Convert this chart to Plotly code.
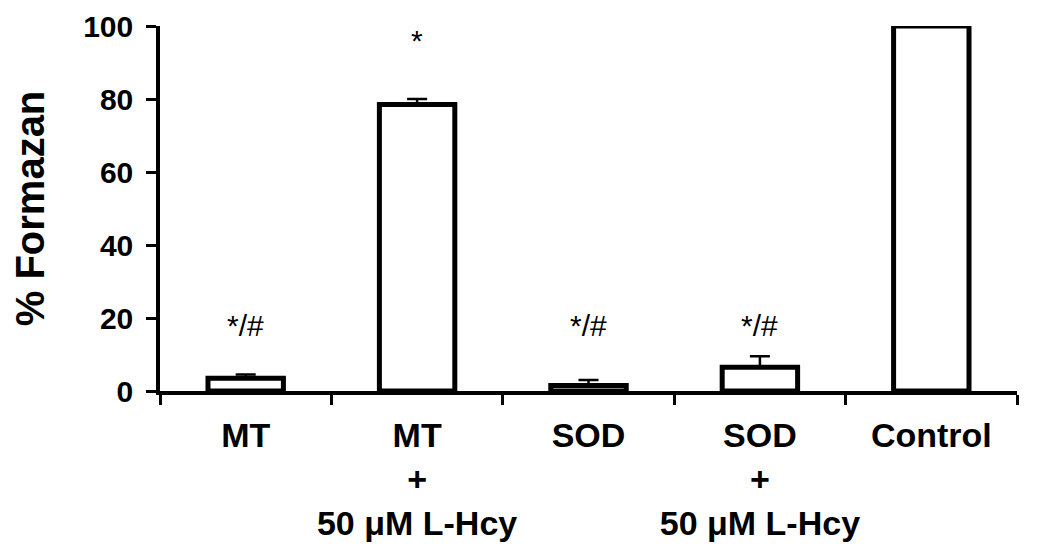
import plotly.graph_objects as go

categories = ["MT", "MT<br>+<br>50 μM L-Hcy", "SOD", "SOD<br>+<br>50 μM L-Hcy", "Control"]
values = [3.5, 78.5, 1.5, 6.5, 100]
errors = [1.0, 1.5, 1.5, 3.0, None]
sig_labels = ["*/#", "*", "*/#", "*/#", ""]
sig_y = [18, 96, 18, 18, None]

fig = go.Figure()
fig.add_trace(go.Bar(
    x=categories, y=values,
    width=0.44,
    marker=dict(color="white", line=dict(color="black", width=5)),
    error_y=dict(type="data", array=errors, arrayminus=[0]*5, symmetric=False,
                 color="black", thickness=2.5, width=10),
))

for c, lab, yy in zip(categories, sig_labels, sig_y):
    if lab:
        fig.add_annotation(x=c, y=yy, text=lab, showarrow=False,
                           font=dict(family="Liberation Sans, Arial", size=30, color="black"),
                           yanchor="middle")

fig.update_layout(
    width=1050, height=550,
    margin=dict(l=152, r=41, t=18, b=167),
    plot_bgcolor="white", paper_bgcolor="white",
    showlegend=False,
    font=dict(family="Liberation Sans, Arial", color="black"),
)
fig.update_xaxes(
    type="category", range=[-0.5, 4.5], tickangle=0, automargin=False,
    showline=True, linecolor="black", linewidth=3.5,
    ticks="outside", tickson="boundaries", ticklen=10, tickwidth=3, tickcolor="black",
    ticklabelstandoff=11, ticklabeloverflow="allow",
    tickfont=dict(family="Liberation Sans, Arial", size=34, color="black", weight="bold"),
    showgrid=False, zeroline=False,
)
fig.update_yaxes(
    range=[0, 100], tickvals=[0, 20, 40, 60, 80, 100], automargin=False,
    showline=True, linecolor="black", linewidth=3.5,
    ticks="outside", ticklen=10, tickwidth=3, tickcolor="black",
    ticklabelstandoff=7, ticklabeloverflow="allow",
    tickfont=dict(family="Liberation Sans, Arial", size=30, color="black", weight="bold"),
    showgrid=False, zeroline=False,
    title=dict(text="% Formazan", standoff=36,
               font=dict(family="Liberation Sans, Arial", size=40, color="black", weight="bold")),
)

fig.write_html("out.html")
